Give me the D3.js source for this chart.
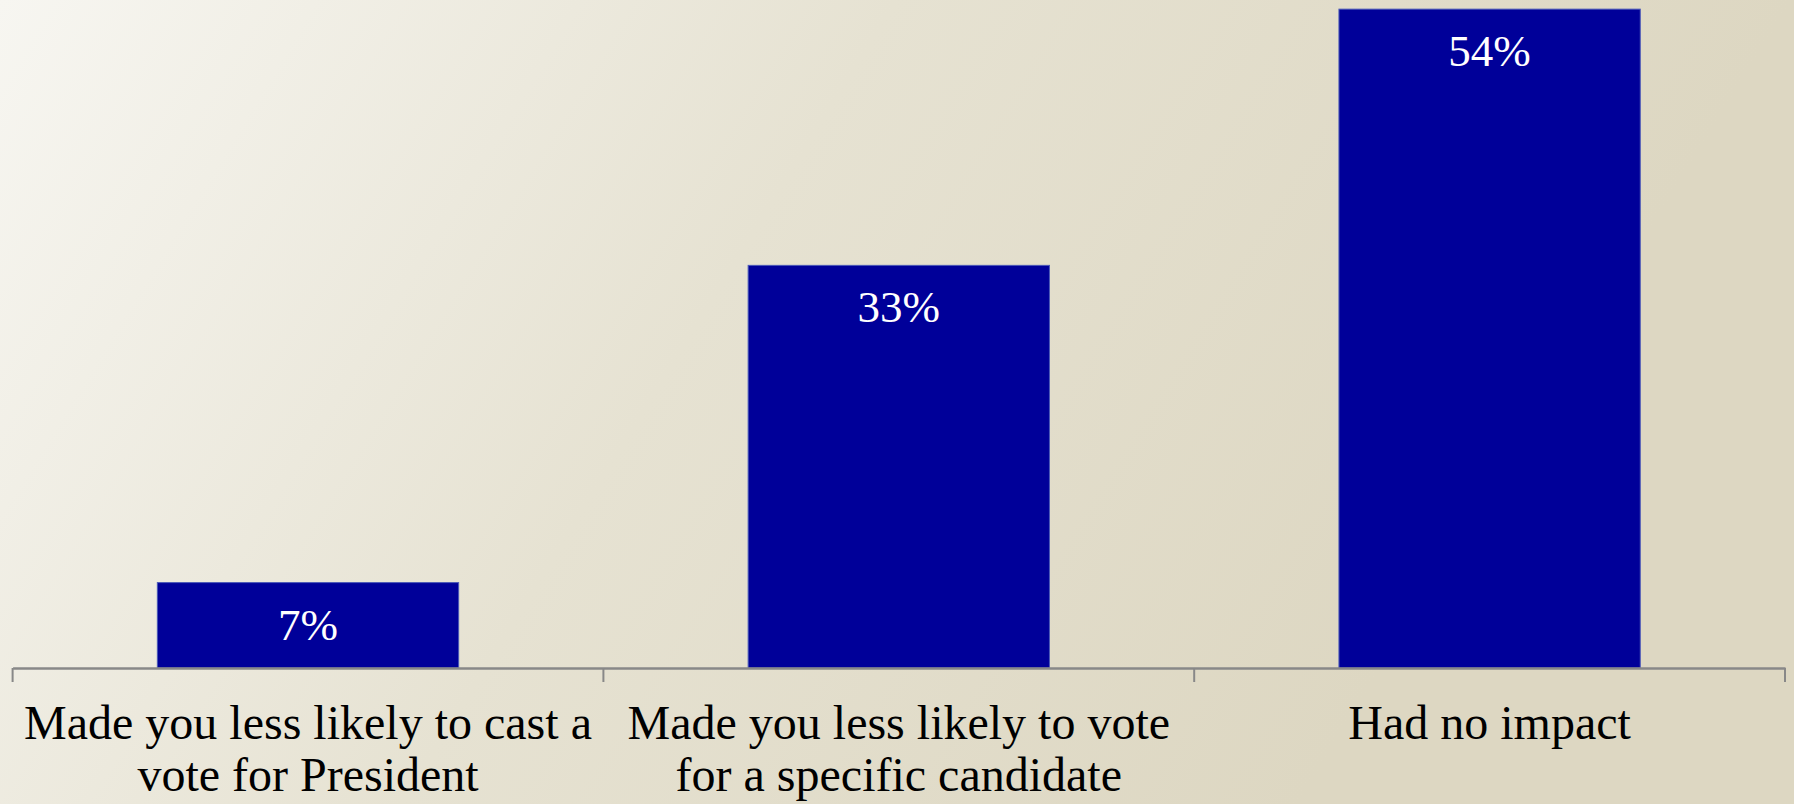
<!DOCTYPE html>
<html>
<head>
<meta charset="utf-8">
<script src="https://cdn.jsdelivr.net/npm/d3@7"></script>
<style>
  html, body { margin: 0; padding: 0; overflow: hidden; }
  svg { display: block; }
</style>
</head>
<body>
<svg id="chart" width="1794" height="804"></svg>
<script>
const categories = [
  "Made you less likely to cast a vote for President",
  "Made you less likely to vote for a specific candidate",
  "Had no impact"
];
const values = [7, 33, 54];
const valueLabels = ["7%", "33%", "54%"];

const W = 1794, H = 804;
const svg = d3.select("#chart");

// background gradient
const defs = svg.append("defs");
const grad = defs.append("linearGradient")
  .attr("id", "bg")
  .attr("gradientUnits", "userSpaceOnUse")
  .attr("x1", 0).attr("y1", 0).attr("x2", 1300).attr("y2", 800);
grad.append("stop").attr("offset", 0).attr("stop-color", "#f7f6f1");
grad.append("stop").attr("offset", 0.5).attr("stop-color", "#e6e2d2");
grad.append("stop").attr("offset", 1).attr("stop-color", "#ddd7c2");
svg.append("rect").attr("width", W).attr("height", H).attr("fill", "url(#bg)");

const axisY = 668;
const x = d3.scaleBand().domain(categories).range([12.6, 1785]).padding(0);
const y = d3.scaleLinear().domain([0, 54.75]).range([axisY, 0]);
const barFrac = 0.51;
const serif = "'Liberation Serif', 'Times New Roman', serif";

const g = svg.append("g");

// bars
g.selectAll("rect.bar").data(values).enter().append("rect")
  .attr("class", "bar")
  .attr("x", (d, i) => x(categories[i]) + x.bandwidth() * (1 - barFrac) / 2)
  .attr("width", x.bandwidth() * barFrac)
  .attr("y", d => y(d))
  .attr("height", d => axisY - y(d))
  .attr("fill", "#000099")
  .attr("stroke", "#4a58b8")
  .attr("stroke-width", 1);

// value labels
g.selectAll("text.val").data(values).enter().append("text")
  .attr("class", "val")
  .attr("x", (d, i) => x(categories[i]) + x.bandwidth() / 2)
  .attr("y", d => y(d) + 57)
  .attr("text-anchor", "middle")
  .attr("fill", "#ffffff")
  .style("font-family", serif)
  .style("font-size", "45px")
  .text((d, i) => valueLabels[i]);

// axis
const axis = d3.axisBottom(x).tickSize(0).tickFormat("");
const ag = svg.append("g").attr("transform", `translate(0,${axisY})`).call(axis);
ag.select(".domain").attr("stroke", "#888888").attr("stroke-width", 2.5);
const bounds = categories.map(c => x(c)).concat([x(categories[categories.length - 1]) + x.bandwidth()]);
ag.selectAll("line.tk").data(bounds).enter().append("line")
  .attr("class", "tk")
  .attr("x1", d => d).attr("x2", d => d)
  .attr("y1", 0).attr("y2", 14)
  .attr("stroke", "#888888").attr("stroke-width", 2);

// category labels with wrapping
const labels = svg.append("g")
  .style("font-family", serif)
  .style("font-size", "48px")
  .attr("fill", "#000000");

categories.forEach(c => {
  const cx = x(c) + x.bandwidth() / 2;
  const t = labels.append("text")
    .attr("x", cx)
    .attr("y", 739)
    .attr("text-anchor", "middle");
  const words = c.split(" ");
  let line = [];
  let tspan = t.append("tspan").attr("x", cx).attr("dy", 0);
  words.forEach(w => {
    line.push(w);
    tspan.text(line.join(" "));
    if (tspan.node().getComputedTextLength() > x.bandwidth() - 6 && line.length > 1) {
      line.pop();
      tspan.text(line.join(" "));
      line = [w];
      tspan = t.append("tspan").attr("x", cx).attr("dy", 52).text(w);
    }
  });
});
</script>
</body>
</html>
